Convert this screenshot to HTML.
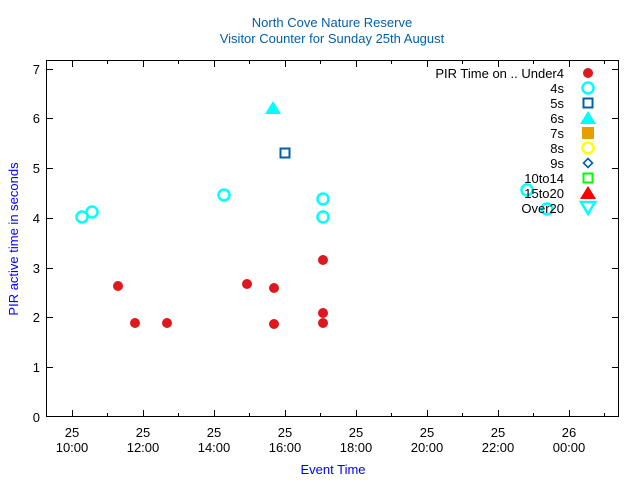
<!DOCTYPE html>
<html><head><meta charset="utf-8"><style>body{margin:0;background:#fff}svg{display:block}</style></head><body>
<svg width="640" height="480" xmlns="http://www.w3.org/2000/svg" font-family="Liberation Sans, sans-serif">
<rect width="640" height="480" fill="#fff"/>
<text x="332" y="27" text-anchor="middle" font-size="13" fill="#0060ad">North Cove Nature Reserve</text>
<text x="332" y="43" text-anchor="middle" font-size="13" fill="#0060ad">Visitor Counter for Sunday 25th August</text>
<rect x="46.5" y="60.5" width="572" height="356" fill="none" stroke="#000" stroke-width="1"/>
<g stroke="#000" stroke-width="1">
<path d="M47 367.5h6M47 317.5h6M47 268.5h6M47 218.5h6M47 168.5h6M47 118.5h6M47 69.5h6M618 367.5h-6M618 317.5h-6M618 268.5h-6M618 218.5h-6M618 168.5h-6M618 118.5h-6M618 69.5h-6"/>
<path d="M72.5 416v-6M143.5 416v-6M214.5 416v-6M285.5 416v-6M356.5 416v-6M427.5 416v-6M498.5 416v-6M569.5 416v-6M72.5 61v6M143.5 61v6M214.5 61v6M285.5 61v6M356.5 61v6M427.5 61v6M498.5 61v6M569.5 61v6"/>
<path d="M107.5 416v-3M178.5 416v-3M249.5 416v-3M320.5 416v-3M391.5 416v-3M462.5 416v-3M533.5 416v-3M604.5 416v-3M107.5 61v3M178.5 61v3M249.5 61v3M320.5 61v3M391.5 61v3M462.5 61v3M533.5 61v3M604.5 61v3"/>
</g>
<g font-size="13" fill="#000" text-anchor="end">
<text x="40" y="422">0</text><text x="40" y="372">1</text><text x="40" y="322">2</text><text x="40" y="273">3</text><text x="40" y="223">4</text><text x="40" y="173">5</text><text x="40" y="123">6</text><text x="40" y="74">7</text>
</g>
<g font-size="13" fill="#000" text-anchor="middle">
<text x="72" y="437">25</text><text x="72" y="452">10:00</text>
<text x="143" y="437">25</text><text x="143" y="452">12:00</text>
<text x="214" y="437">25</text><text x="214" y="452">14:00</text>
<text x="285" y="437">25</text><text x="285" y="452">16:00</text>
<text x="356" y="437">25</text><text x="356" y="452">18:00</text>
<text x="427" y="437">25</text><text x="427" y="452">20:00</text>
<text x="498" y="437">25</text><text x="498" y="452">22:00</text>
<text x="569" y="437">26</text><text x="569" y="452">00:00</text>
</g>
<text x="333" y="474" text-anchor="middle" font-size="13" fill="#0000ff">Event Time</text>
<text transform="translate(18,239) rotate(-90)" text-anchor="middle" font-size="13" fill="#0000ff">PIR active time in seconds</text>
<g fill="#dd181f">
<circle cx="118" cy="286" r="5"/><circle cx="135" cy="323" r="5"/><circle cx="167" cy="323" r="5"/><circle cx="247" cy="284" r="5"/><circle cx="274" cy="288" r="5"/><circle cx="274" cy="324" r="5"/><circle cx="323" cy="260" r="5"/><circle cx="323" cy="313" r="5"/><circle cx="323" cy="323" r="5"/>
</g>
<g fill="none" stroke="#00ffff" stroke-width="2.5">
<circle cx="82" cy="217" r="5.5"/><circle cx="92" cy="212" r="5.5"/><circle cx="224" cy="195" r="5.5"/><circle cx="323" cy="199" r="5.5"/><circle cx="323" cy="217" r="5.5"/><circle cx="527" cy="190" r="5.5"/><circle cx="547" cy="209" r="5.5"/>
</g>
<rect x="280.5" y="148.5" width="9" height="9" fill="none" stroke="#0060ad" stroke-width="2"/>
<polygon points="273,101 281,114 265,114" fill="#00ffff"/>
<g font-size="13" fill="#000" text-anchor="end">
<text x="564" y="78">PIR Time on .. Under4</text><text x="564" y="93">4s</text><text x="564" y="108">5s</text><text x="564" y="123">6s</text><text x="564" y="138">7s</text><text x="564" y="153">8s</text><text x="564" y="168">9s</text><text x="564" y="183">10to14</text><text x="564" y="198">15to20</text><text x="564" y="213">Over20</text>
</g>
<circle cx="588" cy="73" r="5" fill="#dd181f"/>
<circle cx="588" cy="88" r="5.5" fill="none" stroke="#00ffff" stroke-width="2.5"/>
<rect x="583.5" y="98.5" width="9" height="9" fill="none" stroke="#0060ad" stroke-width="2"/>
<polygon points="588,111 596,124 580,124" fill="#00ffff"/>
<rect x="582" y="127" width="12" height="12" fill="#e69f00"/>
<circle cx="588" cy="148" r="5.5" fill="none" stroke="#ffff00" stroke-width="2.5"/>
<polygon points="588,158.5 592.5,163 588,167.5 583.5,163" fill="none" stroke="#0060ad" stroke-width="1.6"/>
<rect x="583.5" y="173.5" width="9" height="9" fill="none" stroke="#00ff00" stroke-width="2"/>
<polygon points="588,186 596,199 580,199" fill="#ff0000"/>
<polygon points="581,202 595,202 588,214" fill="none" stroke="#00ffff" stroke-width="2.5"/>
</svg>
</body></html>
